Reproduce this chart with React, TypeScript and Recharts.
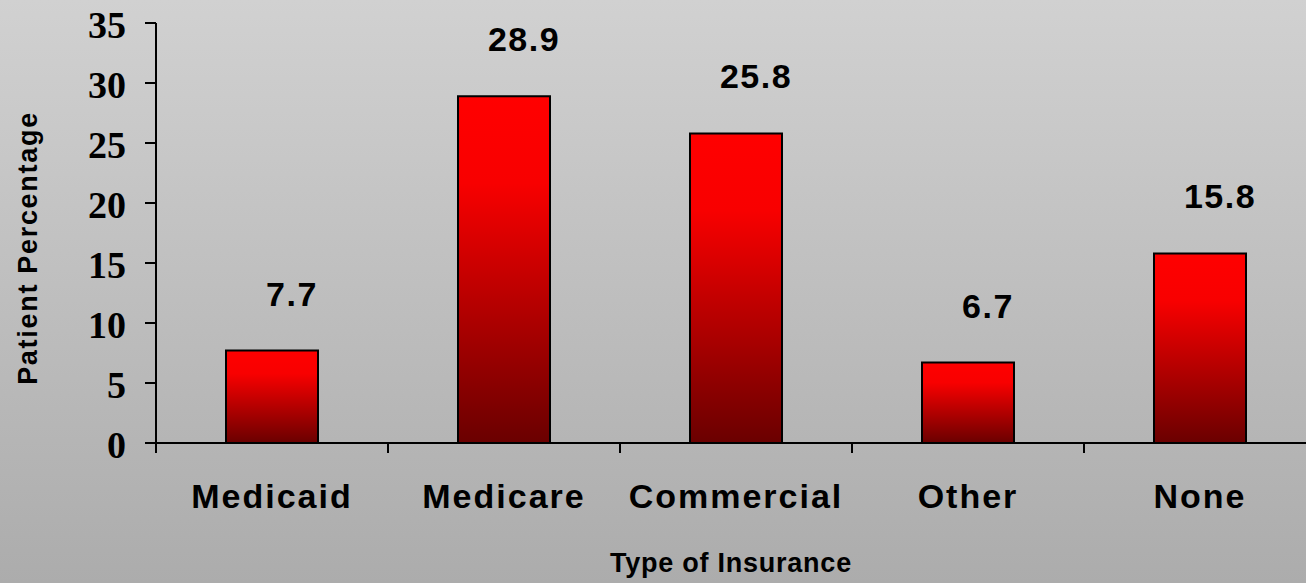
import { BarChart, Bar, XAxis, YAxis, LabelList, Customized } from "recharts";

const categories = ["Medicaid", "Medicare", "Commercial", "Other", "None"];
const percentages = [7.7, 28.9, 25.8, 6.7, 15.8];
const yTicks = [0, 5, 10, 15, 20, 25, 30, 35];

const data = categories.map((name, i) => ({ name, value: percentages[i] }));

const CHART_W = 1330;
const MARGIN_R = 14;
const Y_AXIS_W = 156;
const BAND = (CHART_W - MARGIN_R - Y_AXIS_W) / categories.length;

const sans = "'Liberation Sans', Arial, sans-serif";
const serif = "'Liberation Serif', 'Times New Roman', serif";

const YTick = ({ y, payload }: any) => (
  <text
    x={126}
    y={y + 15}
    textAnchor="end"
    fontFamily={serif}
    fontWeight="bold"
    fontSize={38}
    fill="#000"
  >
    {payload.value}
  </text>
);

// category label + tick marks on the band boundaries
const CatTick = ({ x, y, payload, index }: any) => (
  <g>
    <line x1={x - BAND / 2} x2={x - BAND / 2} y1={y - 1} y2={y + 10} stroke="#000" strokeWidth={2} />
    {index === categories.length - 1 && (
      <line x1={x + BAND / 2} x2={x + BAND / 2} y1={y - 1} y2={y + 10} stroke="#000" strokeWidth={2} />
    )}
    <text
      x={x}
      y={y + 65}
      textAnchor="middle"
      fontFamily={sans}
      fontWeight="bold"
      fontSize={34}
      letterSpacing={2}
      fill="#000"
    >
      {payload.value}
    </text>
  </g>
);

const ValueLabel = ({ x, y, width, value }: any) => (
  <text
    x={x + width / 2 + 20}
    y={y - 45}
    textAnchor="middle"
    fontFamily={sans}
    fontWeight="bold"
    fontSize={34}
    letterSpacing={1.5}
    fill="#000"
  >
    {value}
  </text>
);

const Titles = () => (
  <g>
    <text
      x={37}
      y={248}
      transform="rotate(-90, 37, 248)"
      textAnchor="middle"
      fontFamily={sans}
      fontWeight="bold"
      fontSize={27}
      letterSpacing={1.7}
      fill="#000"
    >
      Patient Percentage
    </text>
    <text
      x={731}
      y={572}
      textAnchor="middle"
      fontFamily={sans}
      fontWeight="bold"
      fontSize={27}
      letterSpacing={0.75}
      fill="#000"
    >
      Type of Insurance
    </text>
  </g>
);

export default function App() {
  return (
    <div
      style={{
        position: "absolute",
        left: 0,
        top: 0,
        width: 1306,
        height: 583,
        overflow: "hidden",
        background: "linear-gradient(to bottom, #d1d1d1, #acacac)",
      }}
    >
      <BarChart
        width={CHART_W}
        height={583}
        data={data}
        margin={{ top: 23, right: MARGIN_R, bottom: 0, left: 0 }}
      >
        <defs>
          <linearGradient id="barGrad" x1="0" y1="0" x2="0" y2="1">
            <stop offset="0%" stopColor="#ff0000" />
            <stop offset="25%" stopColor="#f80000" />
            <stop offset="100%" stopColor="#6a0000" />
          </linearGradient>
        </defs>
        <XAxis
          dataKey="name"
          height={140}
          axisLine={{ stroke: "#000", strokeWidth: 2 }}
          tickLine={false}
          tickSize={0}
          tickMargin={0}
          interval={0}
          tick={<CatTick />}
        />
        <YAxis
          width={Y_AXIS_W}
          domain={[0, 35]}
          ticks={yTicks}
          tickSize={11}
          tick={<YTick />}
          axisLine={{ stroke: "#000", strokeWidth: 2 }}
          tickLine={{ stroke: "#000", strokeWidth: 2 }}
          interval={0}
        />
        <Bar
          dataKey="value"
          barSize={92}
          fill="url(#barGrad)"
          stroke="#000"
          strokeWidth={2}
          isAnimationActive={false}
        >
          <LabelList dataKey="value" content={<ValueLabel />} />
        </Bar>
        <Customized component={Titles} />
      </BarChart>
    </div>
  );
}
